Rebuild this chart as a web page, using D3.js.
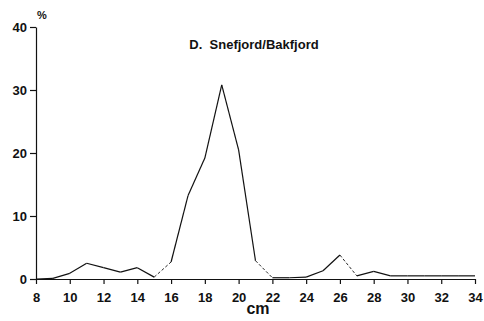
<!DOCTYPE html>
<html>
<head>
<meta charset="utf-8">
<script src="https://cdn.jsdelivr.net/npm/d3@7"></script>
<style>
  html, body { margin: 0; padding: 0; background: #fff; }
  svg { display: block; font-family: "Liberation Sans", Arial, sans-serif; }
</style>
</head>
<body>
<svg id="chart" width="484" height="321"></svg>
<script>
// Length classes (cm) and percentage frequency
const lengths = [8, 9, 10, 11, 12, 13, 14, 15, 16, 17, 18, 19, 20, 21, 22, 23, 24, 25, 26, 27, 28, 29, 30, 31, 32, 33, 34];
const percent = [0, 0.1, 0.9, 2.5, 1.8, 1.1, 1.8, 0.3, 2.7, 13.2, 19.2, 30.8, 20.5, 2.9, 0.2, 0.2, 0.3, 1.3, 3.8, 0.5, 1.2, 0.5, 0.5, 0.5, 0.5, 0.5, 0.5];
// Segments drawn broken (start class of each dashed segment)
const dashedFrom = [15, 21, 26];
const xTicks = [8, 10, 12, 14, 16, 18, 20, 22, 24, 26, 28, 30, 32, 34];
const yTicks = [0, 10, 20, 30, 40];
const title = "D.  Snefjord/Bakfjord";

const svg = d3.select("#chart");
const x = d3.scaleLinear().domain([8, 34]).range([36, 475]);
const y = d3.scaleLinear().domain([0, 40]).range([279, 27]);

// Axes
const xAxis = svg.append("g").attr("transform", `translate(0,${y(0)})`)
  .call(d3.axisBottom(x).tickValues(xTicks).tickSize(5).tickSizeOuter(0).tickPadding(9));
const yAxis = svg.append("g").attr("transform", `translate(${x(8)},0)`)
  .call(d3.axisLeft(y).tickValues(yTicks).tickSize(6).tickSizeOuter(0).tickPadding(3));
[xAxis, yAxis].forEach(g => {
  g.selectAll("path, line").attr("stroke", "#111").attr("stroke-width", 1.2);
  g.selectAll("text").attr("fill", "#111").attr("font-size", 13).attr("font-weight", "bold");
});

// Frequency line, segment by segment so broken segments can be dashed
const pts = lengths.map((l, i) => [l, percent[i]]);
for (let i = 0; i < pts.length - 1; i++) {
  const dashed = dashedFrom.includes(pts[i][0]);
  svg.append("line")
    .attr("x1", x(pts[i][0])).attr("y1", y(pts[i][1]))
    .attr("x2", x(pts[i + 1][0])).attr("y2", y(pts[i + 1][1]))
    .attr("stroke", "#111")
    .attr("stroke-width", dashed ? 0.9 : 1.2)
    .attr("stroke-dasharray", dashed ? "3,2" : null);
}

// Labels
svg.append("text").attr("x", 37).attr("y", 19).attr("font-size", 11).attr("font-weight", "bold")
  .attr("fill", "#111").text("%");
svg.append("text").attr("x", 254).attr("y", 49).attr("text-anchor", "middle")
  .attr("xml:space", "preserve").style("white-space", "pre")
  .attr("font-size", 13).attr("font-weight", "bold").attr("fill", "#111").text(title);
svg.append("text").attr("x", 258).attr("y", 314).attr("text-anchor", "middle")
  .attr("font-size", 16).attr("font-weight", "bold").attr("fill", "#111").text("cm");
</script>
</body>
</html>
